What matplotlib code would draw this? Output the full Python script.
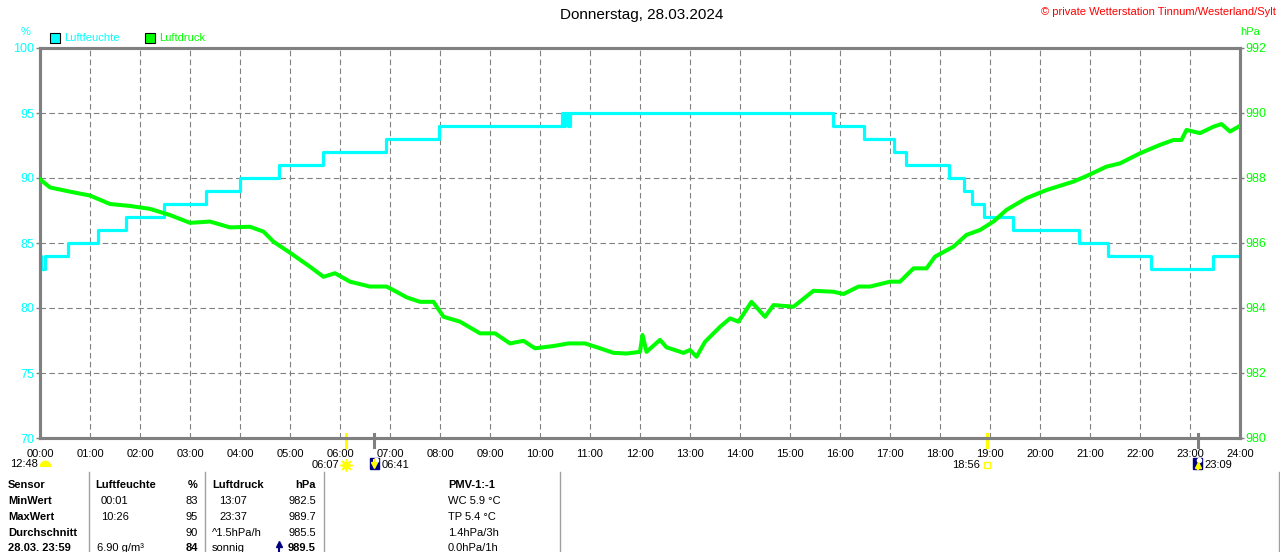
import matplotlib
matplotlib.use("Agg")
from matplotlib import pyplot as plt
from matplotlib.patches import Rectangle
from matplotlib.lines import Line2D

plt.rcParams['font.family'] = ['Liberation Sans', 'DejaVu Sans']

# Luftfeuchte (%), Stufenwerte: Zeitpunkt in Stunden, Wert ab diesem Zeitpunkt
hum_t = [0.0, 0.02, 0.1, 0.55, 1.15, 1.71, 2.47, 3.31, 4.0, 4.77, 5.65, 6.91, 7.97,
         10.43, 10.47, 10.5, 10.55, 10.6, 15.85, 16.49, 17.07, 17.32, 18.17, 18.49,
         18.65, 18.87, 19.45, 20.77, 21.35, 22.22, 23.45, 24.0]
hum_v = [84, 83, 84, 85, 86, 87, 88, 89, 90, 91, 92, 93, 94,
         95, 94, 95, 94, 95, 94, 93, 92, 91, 90, 89,
         88, 87, 86, 85, 84, 83, 84, 84]

# Luftdruck (hPa)
prs_t = [0.0, 0.2, 0.6, 1.0, 1.4, 1.8, 2.2, 2.6, 3.0, 3.4, 3.8, 4.2, 4.47, 4.67,
         5.0, 5.4, 5.67, 5.9, 6.2, 6.6, 6.93, 7.13, 7.33, 7.6, 7.87, 8.07, 8.4,
         8.8, 9.1, 9.4, 9.67, 9.9, 10.27, 10.57, 10.9, 11.2, 11.47, 11.73, 12.0,
         12.05, 12.13, 12.4, 12.53, 12.87, 13.0, 13.13, 13.3, 13.6, 13.8, 13.97,
         14.23, 14.5, 14.67, 15.07, 15.47, 15.87, 16.07, 16.37, 16.6, 17.0, 17.2,
         17.47, 17.73, 17.9, 18.27, 18.53, 18.8, 19.07, 19.33, 19.73, 20.13, 20.67,
         20.93, 21.33, 21.6, 22.0, 22.4, 22.67, 22.83, 22.93, 23.2, 23.47, 23.63,
         23.8, 23.97]
prs_v = [987.96, 987.71, 987.58, 987.46, 987.2, 987.14, 987.05, 986.86, 986.62,
         986.66, 986.48, 986.5, 986.35, 986.04, 985.7, 985.27, 984.96, 985.07,
         984.81, 984.66, 984.66, 984.5, 984.33, 984.19, 984.19, 983.73, 983.58,
         983.22, 983.22, 982.91, 982.99, 982.76, 982.83, 982.91, 982.91, 982.76,
         982.62, 982.6, 982.65, 983.17, 982.65, 983.02, 982.79, 982.62, 982.71,
         982.5, 982.96, 983.42, 983.68, 983.58, 984.19, 983.73, 984.09, 984.04,
         984.53, 984.5, 984.43, 984.66, 984.66, 984.81, 984.81, 985.22, 985.22,
         985.58, 985.89, 986.25, 986.4, 986.66, 987.02, 987.38, 987.63, 987.89,
         988.06, 988.35, 988.45, 988.76, 989.02, 989.17, 989.17, 989.48, 989.38,
         989.58, 989.66, 989.43, 989.58]

hours = list(range(25))
hour_labels = ["%02d:00" % h for h in hours]
hum_ticks = [70, 75, 80, 85, 90, 95, 100]
prs_ticks = [980, 982, 984, 986, 988, 990, 992]

# Sonne / Mond Ereignisse (Stunden)
sunrise, sunset = 6 + 7 / 60, 18 + 56 / 60
moonset, moonrise = 6 + 41 / 60, 23 + 9 / 60

# Tabelle
col_sensor = ["Sensor", "MinWert", "MaxWert", "Durchschnitt", "28.03. 23:59"]
col_hum_a = ["Luftfeuchte", "00:01", "10:26", "", "6.90 g/m³"]
col_hum_b = ["%", "83", "95", "90", "84"]
col_prs_a = ["Luftdruck", "13:07", "23:37", "^1.5hPa/h", "sonnig"]
col_prs_b = ["hPa", "982.5", "989.7", "985.5", "989.5"]
col_pmv = ["PMV-1:-1", "WC 5.9 °C", "TP 5.4 °C", "1.4hPa/3h", "0.0hPa/1h"]

W, H = 1280, 552
CYAN = "#00ffff"
GREEN = "#00ff00"
GRAY = "#808080"
NAVY = "#000080"
YEL = "#ffff00"


def fx(x):
    return x / W


def fy(y):
    return 1 - y / H


def fig_marker(x, y, **kw):
    fig.add_artist(Line2D([fx(x)], [fy(y)], transform=fig.transFigure, zorder=6, **kw))


fig = plt.figure(figsize=(12.8, 5.52), dpi=100)
ax = fig.add_axes([fx(40), fy(438), 1200 / W, 390 / H])
ax2 = ax.twinx()

ax.set_xlim(0, 24)
ax.set_ylim(70, 100)
ax2.set_ylim(980, 992)

ax.step(hum_t, hum_v, where='post', color=CYAN, lw=2.3, zorder=3)
ax2.plot(prs_t, prs_v, color=GREEN, lw=2.9, zorder=3)

for h in hours[1:-1]:
    ax.axvline(h, color=GRAY, lw=0.8, ls=(0, (5, 3)), zorder=1)
for v in hum_ticks[1:-1]:
    ax.axhline(v, color=GRAY, lw=0.8, ls=(0, (5, 3)), zorder=1)

for a in (ax, ax2):
    for s in a.spines.values():
        s.set_color(GRAY)
        s.set_linewidth(2.2)

ax.set_xticks(hours)
ax.set_xticklabels(hour_labels)
ax.tick_params(axis='x', length=0, pad=8, labelsize=8, labelcolor='black')
ax.set_yticks(hum_ticks)
ax.tick_params(axis='y', length=3, width=1, color=GRAY, pad=1, labelsize=9, labelcolor=CYAN)
ax2.set_yticks(prs_ticks)
ax2.tick_params(axis='y', length=3, width=1, color=GRAY, pad=1, labelsize=9, labelcolor=GREEN)

# Sonne / Mond Markierungen unter der Achse
xt = ax.get_xaxis_transform()
for t, c in [(sunrise, YEL), (sunset, YEL), (moonset, GRAY), (moonrise, GRAY)]:
    ax.plot([t, t], [0.01, -0.023], color=c, lw=2.2, transform=xt, clip_on=False)

yic = -0.068
ax.plot([sunrise], [yic], marker=(8, 2, 0), ms=9, mec=YEL, mew=1, transform=xt, clip_on=False)
ax.plot([sunrise], [yic], marker='o', ms=5, color=YEL, transform=xt, clip_on=False)
ax.text(sunrise - 0.14, yic, "06:07", ha='right', va='center', fontsize=8, transform=xt)
ax.plot([sunset], [yic], marker='s', ms=4, mfc='white', mec=YEL, mew=1, transform=xt, clip_on=False)
ax.text(sunset - 0.13, yic, "18:56", ha='right', va='center', fontsize=8, transform=xt)

for t, txt, mk in [(moonset, "06:41", 'v'), (moonrise, "23:09", '^')]:
    x0 = 40 + t * 50
    fig.add_artist(Rectangle((fx(x0 - 4.5), fy(469)), 9 / W, 11 / H,
                             transform=fig.transFigure, color=NAVY, zorder=5))
    fig_marker(x0 + 1.5, 460, marker='o', ms=3, color='white')
    fig_marker(x0, 465, marker=mk, ms=4, color=YEL)
    fig_marker(x0, 462 if mk == 'v' else 467, marker='|', ms=4, mew=1.5, color=YEL)
    ax.text(t + 0.14, yic, txt, ha='left', va='center', fontsize=8, transform=xt)

fig.text(fx(38), fy(464), "12:48", ha='right', va='center', fontsize=8)
cloud = [(-1, -0.3), (-1, 0.2), (-0.6, 0.7), (0, 0.9), (0.6, 0.7), (1, 0.2), (1, -0.3)]
fig_marker(44.5, 464.5, marker=cloud, ms=7, color=YEL)

# Kopfzeile
fig.text(fx(642), fy(15), "Donnerstag, 28.03.2024", ha='center', va='center', fontsize=11)
fig.text(fx(1276), fy(12), "© private Wetterstation Tinnum/Westerland/Sylt", ha='right',
         va='center', fontsize=8, color='#ff0000')
fig.text(fx(26), fy(32), "%", ha='center', va='center', fontsize=8, color=CYAN)
fig.text(fx(1250), fy(32), "hPa", ha='center', va='center', fontsize=8, color=GREEN)

fig.add_artist(Rectangle((fx(50), fy(43)), 10 / W, 10 / H, transform=fig.transFigure,
                         facecolor=CYAN, edgecolor='black', lw=0.8))
fig.text(fx(64), fy(38), "Luftfeuchte", ha='left', va='center', fontsize=8, color=CYAN)
fig.add_artist(Rectangle((fx(145), fy(43)), 10 / W, 10 / H, transform=fig.transFigure,
                         facecolor=GREEN, edgecolor='black', lw=0.8))
fig.text(fx(159), fy(38), "Luftdruck", ha='left', va='center', fontsize=8, color=GREEN)

# Tabelle unten
for x in [89, 205, 324, 560, 1279]:
    fig.add_artist(Line2D([fx(x), fx(x)], [fy(472), fy(552)], color='#a0a0a0', lw=1,
                          transform=fig.transFigure))

row_y = [485, 501, 517, 533, 548]
x_hum_a = [95, 101, 101, 95, 97]
x_prs_a = [212, 219, 219, 212, 212]
for i, y in enumerate(row_y):
    head = 'bold' if i == 0 else 'normal'
    last = 'bold' if i == 4 else head
    fig.text(fx(8), fy(y), col_sensor[i], ha='left', va='center', fontsize=8, weight='bold')
    fig.text(fx(x_hum_a[i]), fy(y), col_hum_a[i], ha='left', va='center', fontsize=8, weight=head)
    fig.text(fx(198), fy(y), col_hum_b[i], ha='right', va='center', fontsize=8, weight=last)
    fig.text(fx(x_prs_a[i]), fy(y), col_prs_a[i], ha='left', va='center', fontsize=8, weight=head)
    fig.text(fx(316), fy(y), col_prs_b[i], ha='right', va='center', fontsize=8, weight=last)
    fig.text(fx(448), fy(y), col_pmv[i], ha='left', va='center', fontsize=8, weight=head)

# Tendenzpfeil vor dem aktuellen Luftdruck
fig_marker(279, 544, marker='^', ms=5, color=NAVY)
fig.add_artist(Line2D([fx(279), fx(279)], [fy(545), fy(552)], color=NAVY, lw=1.5,
                      transform=fig.transFigure, zorder=6))

fig.savefig("out.png", dpi=100)
